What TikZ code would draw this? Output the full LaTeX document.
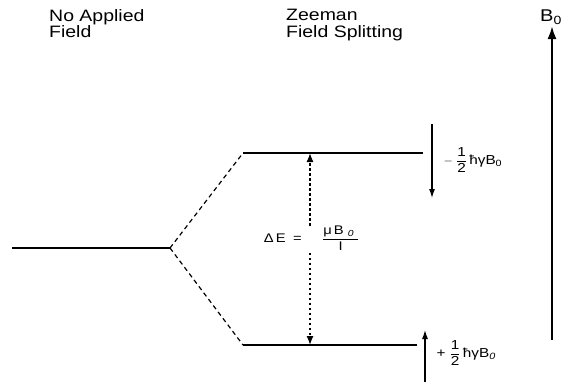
\documentclass[tikz,border=0pt]{standalone}
\usepackage{fontspec}
\setmainfont{Liberation Sans}[FakeStretch=1.18]
\usepackage{tikz}
\usetikzlibrary{arrows,arrows.meta}
\usetikzlibrary{calc}

\begin{document}
\begin{tikzpicture}[x=1pt,y=-1pt,
  level/.style={line width=1.6pt},
  split/.style={line width=1.2pt, dash pattern=on 4.5pt off 3.5pt},
  gap/.style={line width=1.3pt, dash pattern=on 2.5pt off 2.5pt, -{Latex[length=9pt,width=7pt]}},
  spin/.style={line width=1.2pt, -{Latex[length=9pt,width=6pt]}},
  title/.style={align=left, anchor=north west, font=\fontsize{16.5}{16.5}\selectfont},
  lbl/.style={anchor=west, font=\fontsize{13}{15}\selectfont}]

\useasboundingbox (0,0) rectangle (562,383);

%---------------------------------------
% Energy levels
%---------------------------------------
\def\Ey{248}   % no field
\def\Eup{153}  % upper level
\def\Elo{345}  % lower level

% Titles
\node[title, inner sep=0pt] (nofield) at (49,9) {No Applied\\Field};
\node[title, inner sep=0pt] (zeeman) at (286,9) {Zeeman\\Field Splitting};

% Level without field
\coordinate (g0) at (12,\Ey);
\coordinate (g1) at (170,\Ey);
\draw[line width=2.8pt] (g0) -- (g1);

% Split levels
\coordinate (u0) at (243,\Eup);
\coordinate (u1) at (423,\Eup);
\coordinate (l0) at (243,\Elo);
\coordinate (l1) at (417,\Elo);
\draw[level] (u0) -- (u1);
\draw[level] (l0) -- (l1);

\draw[split] (g1) -- (u0);
\draw[split] (g1) -- (l0);

% ---- Energy gap ----
\coordinate (dEt) at (310,\Eup);
\coordinate (dEb) at (310,\Elo);
\node[anchor=east, font=\fontsize{12.5}{14}\selectfont, inner sep=1pt] (dE) at (303,238) {Δ\,E \;=};
\node[anchor=west, font=\fontsize{12.5}{14}\selectfont, inner sep=1pt] (frac) at (321,238)
  {$\displaystyle\frac{\mbox{μ\,B\,\,\textsubscript{\itshape 0}\;}}{\mbox{I}}$};
\draw[gap] ($(dEt)!0.38!(dEb)$) -- (dEt);
\draw[gap] ($(dEt)!0.52!(dEb)$) -- (dEb);

% ---- Spin arrows ----
\coordinate (sd0) at (432,124);
\coordinate (sd1) at (432,198);
\draw[spin] (sd0) -- (sd1);
\node[lbl] (sdl) at (440,160) {$-\;\displaystyle\frac{\mbox{1}}{\mbox{2}}$\,ħγB\textsubscript{0}};

\coordinate (su0) at (425,382);
\coordinate (su1) at (425,330);
\draw[spin] (su0) -- (su1);
\node[lbl] (sul) at (433,353) {+ $\displaystyle\frac{\mbox{1}}{\mbox{2}}$\,ħγB\textsubscript{\itshape 0}};

% ---- Applied field ----
\coordinate (b0) at (552,340);
\coordinate (b1) at (552,26);
\draw[line width=2.2pt, -{Latex[length=13pt,width=9pt]}] (b0) -- (b1);
\node[font=\fontsize{17}{18}\selectfont, inner sep=0pt] (bfield) at (551,17) {B\textsubscript{0}};

\end{tikzpicture}
\end{document}
